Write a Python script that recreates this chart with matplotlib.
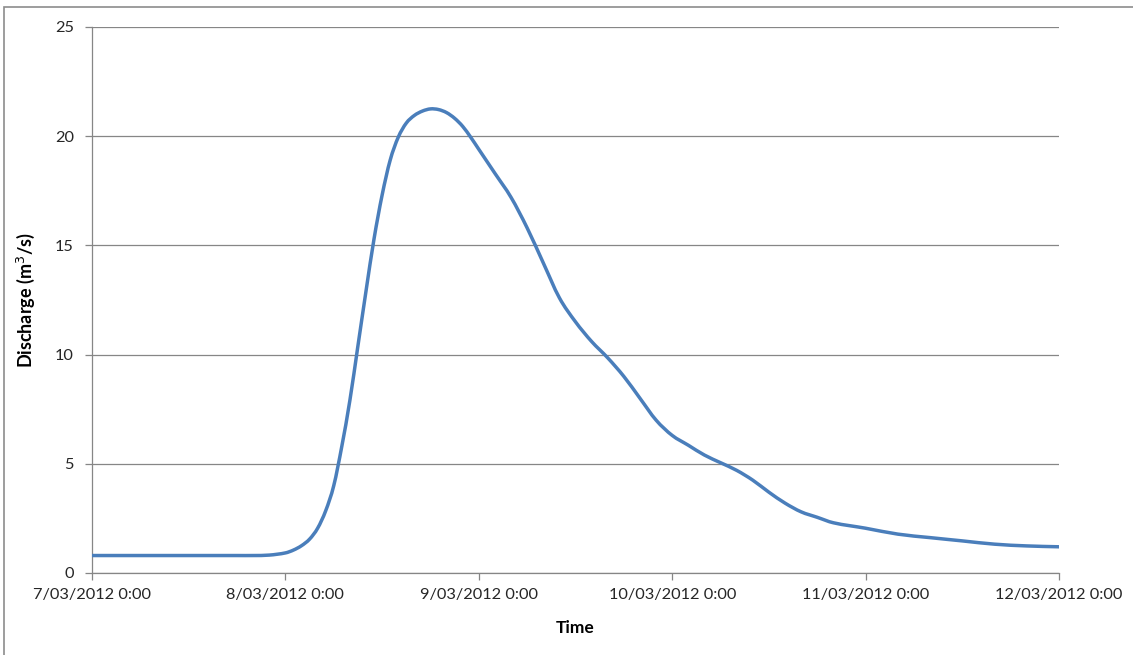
import datetime as dt
import matplotlib
matplotlib.use("Agg")
import matplotlib.pyplot as plt
import matplotlib.dates as mdates
from matplotlib.patches import Rectangle, PathPatch
from matplotlib.path import Path

# Hydrograph: hours since 7/03/2012 0:00 and discharge (m3/s)
hours = [0, 6, 12, 18, 20, 22, 24, 25, 26, 27, 28, 29, 30, 31, 32, 33, 34, 35,
         36, 37, 38, 39, 40, 41, 42, 43, 44, 45, 46, 47, 48, 50, 52, 54, 56,
         58, 60, 62, 64, 66, 68, 70, 72, 74, 76, 78, 80, 82, 84, 86, 88, 90,
         92, 96, 100, 104, 108, 112, 116, 120]
discharge = [0.8, 0.8, 0.8, 0.8, 0.8, 0.82, 0.92, 1.05, 1.25, 1.55, 2.05, 2.85,
             4.0, 5.8, 7.9, 10.4, 12.9, 15.3, 17.3, 18.9, 19.95, 20.6, 20.95,
             21.15, 21.25, 21.22, 21.08, 20.82, 20.45, 19.95, 19.4, 18.3, 17.2,
             15.8, 14.2, 12.6, 11.5, 10.6, 9.85, 9.0, 8.0, 7.0, 6.3, 5.85, 5.4,
             5.05, 4.7, 4.25, 3.7, 3.2, 2.8, 2.55, 2.3, 2.05, 1.78, 1.62, 1.47,
             1.32, 1.24, 1.2]

start = dt.datetime(2012, 3, 7)
times = [start + dt.timedelta(hours=h) for h in hours]

tick_dates = [dt.datetime(2012, 3, d) for d in range(7, 13)]
tick_labels = ["7/03/2012 0:00", "8/03/2012 0:00", "9/03/2012 0:00",
               "10/03/2012 0:00", "11/03/2012 0:00", "12/03/2012 0:00"]
y_ticks = [0, 5, 10, 15, 20, 25]

plt.rcParams["font.family"] = ["Lato", "DejaVu Sans"]


def smooth_path(xs, ys):
    """Cubic Hermite (smoothed-line) path through the given points."""
    n = len(xs)
    slopes = []
    for i in range(n):
        a = max(i - 1, 0)
        b = min(i + 1, n - 1)
        slopes.append((ys[b] - ys[a]) / (xs[b] - xs[a]))
    verts = [(xs[0], ys[0])]
    codes = [Path.MOVETO]
    for i in range(n - 1):
        dx = xs[i + 1] - xs[i]
        verts += [(xs[i] + dx / 3, ys[i] + slopes[i] * dx / 3),
                  (xs[i + 1] - dx / 3, ys[i + 1] - slopes[i + 1] * dx / 3),
                  (xs[i + 1], ys[i + 1])]
        codes += [Path.CURVE4] * 3
    return Path(verts, codes)


W, H = 1133, 655
fig = plt.figure(figsize=(W / 100, H / 100), dpi=100)
ax = fig.add_axes([92 / W, 1 - 573 / H, (1059 - 92) / W, (573 - 27) / H])

xnum = mdates.date2num(times)
ax.add_patch(PathPatch(smooth_path(list(xnum), discharge), fill=False,
                       edgecolor="#4A7EBB", lw=2.5, capstyle="round",
                       joinstyle="round", zorder=3))
ax.xaxis_date()

ax.set_xlim(tick_dates[0], tick_dates[-1])
ax.set_ylim(0, 25)
ax.set_xticks(tick_dates)
ax.set_xticklabels(tick_labels)
ax.set_yticks(y_ticks)
ax.set_yticklabels([str(v) for v in y_ticks])

grid_c = "#868686"
ax.grid(axis="y", color=grid_c, lw=0.9)
ax.set_axisbelow(True)
for side in ("top", "right"):
    ax.spines[side].set_visible(False)
for side in ("left", "bottom"):
    ax.spines[side].set_color(grid_c)
    ax.spines[side].set_linewidth(0.9)

ax.tick_params(axis="x", direction="out", length=5, width=0.9, color=grid_c,
               labelsize=11.8, labelcolor="#262626", pad=6)
ax.tick_params(axis="y", direction="out", length=5, width=0.9, color=grid_c,
               labelsize=11.8, labelcolor="#262626", pad=8)

ax.set_xlabel("Time", fontsize=12.5, fontweight="bold", labelpad=13)
ax.set_ylabel("Discharge (m$^3$/s)", fontsize=13, fontweight="bold", labelpad=13)

# chart frame
fig.patches.append(Rectangle((4 / W, -0.05), 1.1, 1 - 7 / H + 0.05,
                             transform=fig.transFigure, fill=False,
                             edgecolor="#8c8c8c", lw=1.2))

fig.savefig("out.png", dpi=100, facecolor="white")
